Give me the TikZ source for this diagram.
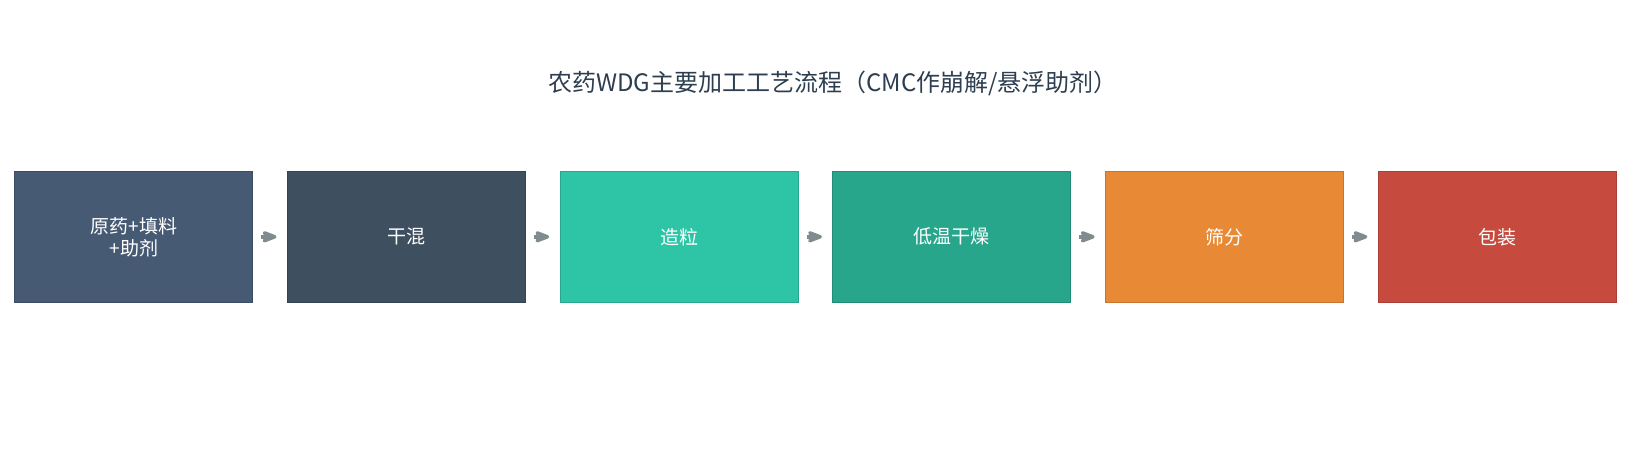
\documentclass[tikz,border=0pt]{standalone}
\usepackage{fontspec}
\setmainfont{Noto Sans CJK SC}
\usetikzlibrary{arrows.meta, positioning}
\definecolor{titleink}{HTML}{2C3E50}
\definecolor{arrowgray}{HTML}{7F8C8D}
\definecolor{rawfill}{HTML}{475A73}
\definecolor{mixfill}{HTML}{3E4F60}
\definecolor{granfill}{HTML}{2EC4A6}
\definecolor{dryfill}{HTML}{27A68C}
\definecolor{sievefill}{HTML}{E88A35}
\definecolor{packfill}{HTML}{C64B3E}
\tikzset{
	stage/.style={draw=#1!85!black, fill=#1, line width=1pt, minimum width=238pt, minimum height=131pt,
		text=white, align=center, font=\fontsize{19}{22}\selectfont},
	flow/.style={-{Stealth[round]}, line width=4pt, draw=arrowgray, shorten <=8pt, shorten >=10.5pt}
}

\begin{document}
\begin{tikzpicture}[x=1pt, y=1pt, node distance=272.7pt, on grid]

	\useasboundingbox (0,0) rectangle (1639,-465);

	\node[text=titleink, font=\fontsize{24}{29}\selectfont] (title) at (833,-83.5) {农药WDG主要加工工艺流程（CMC作崩解/悬浮助剂）};

	\node[stage=rawfill] (raw) at (133.8,-236.8)	{原药+填料\\+助剂};
	\node[stage=mixfill, right=of raw] (mix)		{干混};
	\node[stage=granfill, right=of mix] (gran)	{造粒};
	\node[stage=dryfill, right=of gran] (dry)		{低温干燥};
	\node[stage=sievefill, right=of dry] (sieve)	{筛分};
	\node[stage=packfill, right=of sieve] (pack)	{包装};

	\foreach \a/\b in {raw/mix, mix/gran, gran/dry, dry/sieve, sieve/pack}
		\draw[flow] (\a) -- (\b);
\end{tikzpicture}
\end{document}
